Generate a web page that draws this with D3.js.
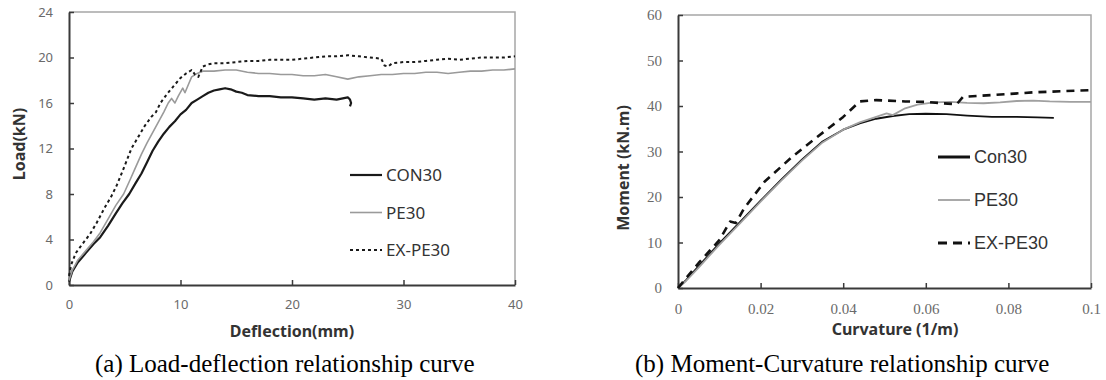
<!DOCTYPE html>
<html>
<head>
<meta charset="utf-8">
<script src="https://cdn.jsdelivr.net/npm/d3@7"></script>
<style>
  html, body { margin: 0; padding: 0; background: #fff; }
  svg { display: block; }
</style>
</head>
<body>
<div id="chart"></div>
<script>
// (a) load vs deflection, [deflection mm, load kN]
const con30Load = [[0,0.3],[0.3,1.2],[0.8,2.0],[1.5,2.8],[2.2,3.6],[2.8,4.2],[3.5,5.2],[4.2,6.3],[4.8,7.2],[5.4,8.0],[6,9.0],[6.5,9.8],[7,10.8],[7.5,11.8],[8,12.6],[8.5,13.3],[9,13.9],[9.5,14.4],[10,15.0],[10.5,15.4],[11,16.0],[11.5,16.3],[12,16.6],[12.5,16.9],[13,17.1],[13.5,17.2],[14,17.3],[14.5,17.2],[15,17.0],[15.5,16.9],[16,16.7],[17,16.6],[18,16.6],[19,16.5],[20,16.5],[21,16.4],[22,16.3],[23,16.4],[24,16.3],[25,16.5],[25.2,16.3],[25.3,16.0],[25.2,15.7]];
const pe30Load = [[0,0.4],[0.3,1.3],[0.8,2.2],[1.5,3.0],[2.2,3.8],[2.8,4.6],[3.5,5.8],[4.2,7.0],[4.9,8.0],[5.5,9.3],[6,10.4],[6.5,11.5],[7,12.5],[7.5,13.4],[8,14.3],[8.5,15.2],[8.9,16.0],[9.2,16.4],[9.5,16.0],[9.8,16.6],[10.2,17.3],[10.4,16.9],[10.7,17.6],[11,18.3],[11.5,18.6],[12,18.8],[13,18.8],[14,18.9],[15,18.9],[16,18.7],[17,18.6],[18,18.6],[19,18.5],[20,18.5],[21,18.4],[22,18.4],[23,18.5],[24,18.3],[25,18.1],[26,18.3],[27,18.4],[28,18.5],[29,18.5],[30,18.6],[31,18.6],[32,18.7],[33,18.7],[34,18.6],[35,18.7],[36,18.8],[37,18.8],[38,18.9],[39,18.9],[40,19.0]];
const exPe30Load = [[0,0.8],[0.2,1.8],[0.6,2.8],[1.2,3.6],[1.9,4.5],[2.5,5.5],[3.2,6.8],[3.8,7.8],[4.3,8.8],[4.8,10.0],[5.2,11.0],[5.6,12.0],[6.2,13.0],[6.8,14.0],[7.4,14.8],[7.8,15.2],[8.2,16.0],[8.8,16.8],[9.4,17.5],[10,18.2],[10.5,18.6],[11,18.9],[11.3,18.5],[11.6,18.3],[12,19.2],[12.5,19.4],[13,19.5],[14,19.5],[15,19.6],[16,19.7],[17,19.7],[18,19.8],[19,19.8],[20,19.8],[21,19.9],[22,20.0],[23,20.1],[24,20.1],[25,20.2],[26,20.1],[27,20.0],[28,19.9],[28.3,19.3],[28.6,19.2],[29,19.5],[30,19.6],[31,19.6],[32,19.7],[33,19.8],[34,19.9],[35,19.8],[36,19.9],[37,20.0],[38,20.0],[39,20.0],[40,20.1]];

// (b) moment vs curvature, [curvature 1/m, moment kN.m]
const con30Moment = [[0,0],[0.002,1.8],[0.005,4.8],[0.01,9.8],[0.015,14.5],[0.02,19.2],[0.025,23.8],[0.03,28.2],[0.035,32.2],[0.04,34.8],[0.044,36.2],[0.048,37.2],[0.052,37.8],[0.056,38.2],[0.06,38.3],[0.065,38.2],[0.07,37.9],[0.076,37.6],[0.082,37.6],[0.087,37.5],[0.091,37.4]];
const pe30Moment = [[0,0],[0.002,1.6],[0.005,4.5],[0.01,9.5],[0.015,14.2],[0.02,19],[0.025,23.6],[0.03,28],[0.035,32],[0.04,34.8],[0.044,36.4],[0.048,37.6],[0.0505,38.4],[0.052,38.0],[0.055,39.5],[0.058,40.3],[0.062,40.8],[0.066,40.9],[0.07,40.7],[0.074,40.6],[0.078,40.8],[0.082,41.1],[0.086,41.2],[0.09,41.0],[0.095,40.9],[0.1,40.9]];
const exPe30Moment = [[0,0],[0.002,2.2],[0.005,5.5],[0.01,10.5],[0.0126,14.6],[0.014,14.3],[0.016,17.5],[0.021,23.4],[0.0276,28.8],[0.0337,33.2],[0.037,35.5],[0.04,37.6],[0.044,41.0],[0.048,41.3],[0.055,41.0],[0.06,40.9],[0.064,40.6],[0.0675,40.4],[0.069,42.0],[0.076,42.4],[0.086,43.0],[0.1,43.5]];

const loadTicks = [0, 4, 8, 12, 16, 20, 24];
const deflTicks = [0, 10, 20, 30, 40];
const momentTicks = [0, 10, 20, 30, 40, 50, 60];
const curvTicks = [0, 0.02, 0.04, 0.06, 0.08, 0.1];

const namesA = ['CON30', 'PE30', 'EX-PE30'];
const namesB = ['Con30', 'PE30', 'EX-PE30'];
const captions = ['(a) Load-deflection relationship curve', '(b) Moment-Curvature relationship curve'];

const svg = d3.select('#chart').append('svg').attr('width', 1106).attr('height', 380);

function drawPanel(opt) {
  const { box, xDomain, yDomain, xTicks, yTicks, xFmt, series, tickFont, tickSize, xTitle, yTitle, yTitlePos, xTitlePos, legend } = opt;
  const x = d3.scaleLinear().domain(xDomain).range([box.left, box.right]);
  const y = d3.scaleLinear().domain(yDomain).range([box.bottom, box.top]);
  const g = svg.append('g');

  // light frame on top/right
  g.append('path')
    .attr('d', `M${box.left},${box.top}H${box.right}V${box.bottom}`)
    .attr('fill', 'none').attr('stroke', '#a6a6a6').attr('stroke-width', 1.5);

  const yAxis = g.append('g').attr('transform', `translate(${box.left},0)`)
    .call(d3.axisLeft(y).tickValues(yTicks).tickSize(-5).tickSizeOuter(0).tickPadding(16));
  const xAxis = g.append('g').attr('transform', `translate(0,${box.bottom})`)
    .call(d3.axisBottom(x).tickValues(xTicks).tickFormat(xFmt).tickSize(-5).tickSizeOuter(0).tickPadding(15));
  [yAxis, xAxis].forEach((a) => {
    a.select('.domain').attr('stroke', '#3a3a3a').attr('stroke-width', 2);
    a.selectAll('.tick line').attr('stroke', '#3a3a3a').attr('stroke-width', 1.5);
    a.selectAll('.tick text').attr('fill', '#6a6a6a').attr('font-family', tickFont).attr('font-size', tickSize);
  });

  const line = d3.line().x((d) => x(d[0])).y((d) => y(d[1])).curve(d3.curveLinear);
  series.forEach((s) => {
    g.append('path').datum(s.data).attr('d', line)
      .attr('fill', 'none').attr('stroke', s.color).attr('stroke-width', s.width)
      .attr('stroke-dasharray', s.dash || null).attr('stroke-linejoin', 'round');
  });

  g.append('text')
    .attr('x', xTitlePos[0]).attr('y', xTitlePos[1])
    .attr('text-anchor', 'middle')
    .attr('font-family', '"Noto Sans", "Open Sans", sans-serif').attr('font-weight', 'bold')
    .attr('font-size', 16).attr('fill', '#333')
    .text(xTitle);
  g.append('text')
    .attr('transform', `translate(${yTitlePos[0]},${yTitlePos[1]}) rotate(-90)`)
    .attr('text-anchor', 'middle')
    .attr('font-family', '"Noto Sans", "Open Sans", sans-serif').attr('font-weight', 'bold')
    .attr('font-size', 16).attr('fill', '#333')
    .text(yTitle);

  const lg = g.append('g');
  series.forEach((s, i) => {
    const ly = legend.y + i * legend.step;
    lg.append('line')
      .attr('x1', legend.x).attr('x2', legend.x + legend.len)
      .attr('y1', ly).attr('y2', ly)
      .attr('stroke', s.color).attr('stroke-width', s.legendWidth || s.width)
      .attr('stroke-dasharray', s.legendDash || s.dash || null);
    lg.append('text')
      .attr('x', legend.x + legend.len + 4).attr('y', ly)
      .attr('dy', '0.36em')
      .attr('font-family', legend.font).attr('font-size', legend.size).attr('fill', '#333')
      .text(s.name);
  });
}

drawPanel({
  box: { left: 69, right: 515, top: 12, bottom: 285 },
  xDomain: [0, 40], yDomain: [0, 24],
  xTicks: deflTicks, yTicks: loadTicks, xFmt: d3.format('d'),
  tickFont: '"Noto Sans", "Open Sans", sans-serif', tickSize: 13,
  xTitle: 'Deflection(mm)', xTitlePos: [292, 337],
  yTitle: 'Load(kN)', yTitlePos: [25, 144],
  legend: { x: 350, y: 175, step: 37.5, len: 32, font: '"Noto Sans", "Open Sans", sans-serif', size: 17 },
  series: [
    { name: namesA[0], data: con30Load, color: '#1a1a1a', width: 2.2 },
    { name: namesA[1], data: pe30Load, color: '#9a9a9a', width: 1.6 },
    { name: namesA[2], data: exPe30Load, color: '#1a1a1a', width: 2, dash: '3,3' }
  ]
});

drawPanel({
  box: { left: 678, right: 1091, top: 15, bottom: 288 },
  xDomain: [0, 0.1], yDomain: [0, 60],
  xTicks: curvTicks, yTicks: momentTicks, xFmt: (d) => (d === 0 ? '0' : String(+d.toFixed(2))),
  tickFont: '"Liberation Serif", "Times New Roman", serif', tickSize: 15,
  xTitle: 'Curvature (1/m)', xTitlePos: [895, 335],
  yTitle: 'Moment (kN.m)', yTitlePos: [629, 168],
  legend: { x: 938, y: 157, step: 43, len: 32, font: '"Liberation Sans", Arial, sans-serif', size: 18 },
  series: [
    { name: namesB[0], data: con30Moment, color: '#111', width: 1.8, legendWidth: 3 },
    { name: namesB[1], data: pe30Moment, color: '#a0a0a0', width: 1.8 },
    { name: namesB[2], data: exPe30Moment, color: '#111', width: 2.6, dash: '8,6', legendDash: '9,6', legendWidth: 3 }
  ]
});

// captions under each panel
svg.selectAll('.caption').data(captions).join('text')
  .attr('class', 'caption')
  .attr('x', (d, i) => (i === 0 ? 95 : 635))
  .attr('y', 372)
  .attr('font-family', '"Liberation Serif", "Times New Roman", serif')
  .attr('font-size', 25)
  .attr('fill', '#000')
  .text((d) => d);
</script>
</body>
</html>
